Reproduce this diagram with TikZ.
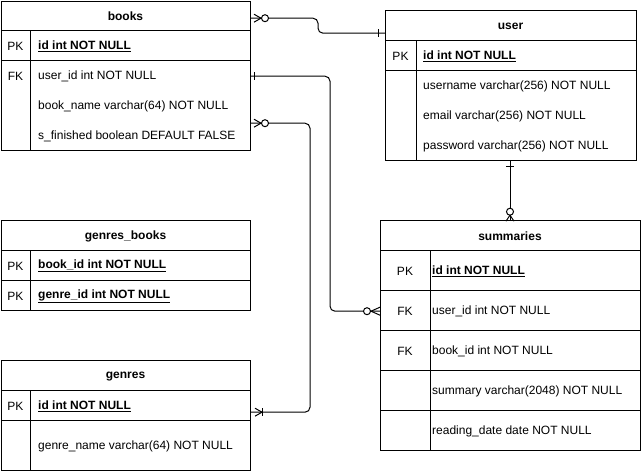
\documentclass[tikz,border=0pt]{standalone}
\usepackage{fontspec}
\setmainfont{Liberation Sans}
\begin{document}
\begin{tikzpicture}[x=1pt,y=-1pt,
  every node/.style={font=\fontsize{12}{14}\selectfont, inner sep=0pt, yshift=-1.2pt},
  tbl/.style={draw, line width=1pt, anchor=north west, yshift=1.2pt},
  hdr/.style={font=\fontsize{12}{14}\selectfont\bfseries},
  pk/.style={},
  fld/.style={anchor=west},
  ln/.style={line width=1pt},
  conn/.style={line width=1pt, rounded corners=5pt},
  mk/.style={line width=1pt}]
\useasboundingbox (0,0) rectangle (641,471);

% ---------- books ----------
\node[tbl, minimum width=249pt, minimum height=149pt] (books) at (1,1) {};
\draw[ln] (1,30) -- (250,30) (1,60) -- (250,60) (30,30) -- (30,150);
\node[hdr] (books-t) at (125.5,15.5) {books};
\node[pk] (books-pk) at (15.5,45) {PK};
\node[fld] (books-id) at (38,45) {\textbf{\underline{id int NOT NULL}}};
\node (books-fk) at (15.5,75) {FK};
\node[fld] (books-f1) at (38,75) {user\_id int NOT NULL};
\node[fld] (books-f2) at (38,105) {book\_name varchar(64) NOT NULL};
\node[fld] (books-f3) at (38,135) {s\_finished boolean DEFAULT FALSE};

% ---------- user ----------
\node[tbl, minimum width=251pt, minimum height=150pt] (user) at (385,10) {};
\draw[ln] (385,40) -- (636,40) (385,70) -- (636,70) (416,40) -- (416,160);
\node[hdr] (user-t) at (510.5,25) {user};
\node[pk] (user-pk) at (400.5,55) {PK};
\node[fld] (user-id) at (423,55) {\textbf{\underline{id int NOT NULL}}};
\node[fld] (user-f1) at (423,85) {username varchar(256) NOT NULL};
\node[fld] (user-f2) at (423,115) {email varchar(256) NOT NULL};
\node[fld] (user-f3) at (423,145) {password varchar(256) NOT NULL};

% ---------- genres_books ----------
\node[tbl, minimum width=249pt, minimum height=90pt] (gb) at (1,220) {};
\draw[ln] (1,250) -- (250,250) (1,280) -- (250,280) (30,250) -- (30,310);
\node[hdr] (gb-t) at (125.5,235) {genres\_books};
\node[pk] (gb-pk1) at (15.5,265) {PK};
\node[fld] (gb-f1) at (38,265) {\textbf{\underline{book\_id int NOT NULL}}};
\node[pk] (gb-pk2) at (15.5,295) {PK};
\node[fld] (gb-f2) at (38,295) {\textbf{\underline{genre\_id int NOT NULL}}};

% ---------- genres ----------
\node[tbl, minimum width=249pt, minimum height=110pt] (genres) at (1,360) {};
\draw[ln] (1,390) -- (250,390) (1,420) -- (250,420) (30,390) -- (30,470);
\node[hdr] (genres-t) at (125.5,375) {genres};
\node[pk] (genres-pk) at (15.5,405) {PK};
\node[fld] (genres-id) at (38,405) {\textbf{\underline{id int NOT NULL}}};
\node[fld] (genres-f1) at (38,445) {genre\_name varchar(64) NOT NULL};

% ---------- summaries ----------
\node[tbl, minimum width=260pt, minimum height=230pt] (sum) at (380,220) {};
\draw[ln] (380,250) -- (640,250) (380,290) -- (640,290) (380,330) -- (640,330)
          (380,370) -- (640,370) (380,410) -- (640,410) (430,250) -- (430,450);
\node[hdr] (sum-t) at (510,235) {summaries};
\node[pk] (sum-pk) at (405,270) {PK};
\node[fld] (sum-id) at (432,270) {\textbf{\underline{id int NOT NULL}}};
\node (sum-fk1) at (405,310) {FK};
\node[fld] (sum-f1) at (432,310) {user\_id int NOT NULL};
\node (sum-fk2) at (405,350) {FK};
\node[fld] (sum-f2) at (432,350) {book\_id int NOT NULL};
\node[fld] (sum-f3) at (432,390) {summary varchar(2048) NOT NULL};
\node[fld] (sum-f4) at (432,430) {reading\_date date NOT NULL};

% ---------- connector end points ----------
\coordinate (c1a) at (250,17);
\coordinate (c1b) at (385,32);
\coordinate (c2a) at (250,75);
\coordinate (c2b) at (380,310);
\coordinate (c3a) at (250,122);
\coordinate (c3b) at (250,411);
\coordinate (c4a) at (510,160);
\coordinate (c4b) at (510,220);

% ---------- connectors ----------
\draw[conn] (c1a) -- ++(68,0) |- (c1b);
\draw[conn] (c2a) -- ++(80,0) |- (c2b);
\draw[conn] (c3a) -- ++(60,0) |- (c3b);
\draw[conn] (c4a) -- (c4b);

% ---------- markers ----------
% c1a zero-to-many
\draw[mk] ([shift={(4,-4)}]c1a) -- ([shift={(11,0)}]c1a) -- ([shift={(4,4)}]c1a);
\draw[mk, fill=white] ([shift={(15,0)}]c1a) circle (3.5);
% c1b one
\draw[mk] ([shift={(-7,-4)}]c1b) -- ([shift={(-7,4)}]c1b);
% c2a one
\draw[mk] ([shift={(4,-4)}]c2a) -- ([shift={(4,4)}]c2a);
% c2b zero-to-many
\draw[mk] ([shift={(0,-4)}]c2b) -- ([shift={(-9,0)}]c2b) -- ([shift={(0,4)}]c2b);
\draw[mk, fill=white] ([shift={(-13,0)}]c2b) circle (3.5);
% c3a zero-to-many
\draw[mk] ([shift={(4,-4)}]c3a) -- ([shift={(11,0)}]c3a) -- ([shift={(4,4)}]c3a);
\draw[mk, fill=white] ([shift={(15,0)}]c3a) circle (3.5);
% c3b one-to-many
\draw[mk] ([shift={(5,-4)}]c3b) -- ([shift={(12,0)}]c3b) -- ([shift={(5,4)}]c3b);
\draw[mk] ([shift={(12,-4)}]c3b) -- ([shift={(12,4)}]c3b);
% c4a one
\draw[mk] ([shift={(-4,5)}]c4a) -- ([shift={(4,5)}]c4a);
% c4b zero-to-many
\draw[mk] ([shift={(-4,0)}]c4b) -- ([shift={(0,-6)}]c4b) -- ([shift={(4,0)}]c4b);
\draw[mk, fill=white] ([shift={(0,-9.5)}]c4b) circle (3.5);
\end{tikzpicture}
\end{document}
